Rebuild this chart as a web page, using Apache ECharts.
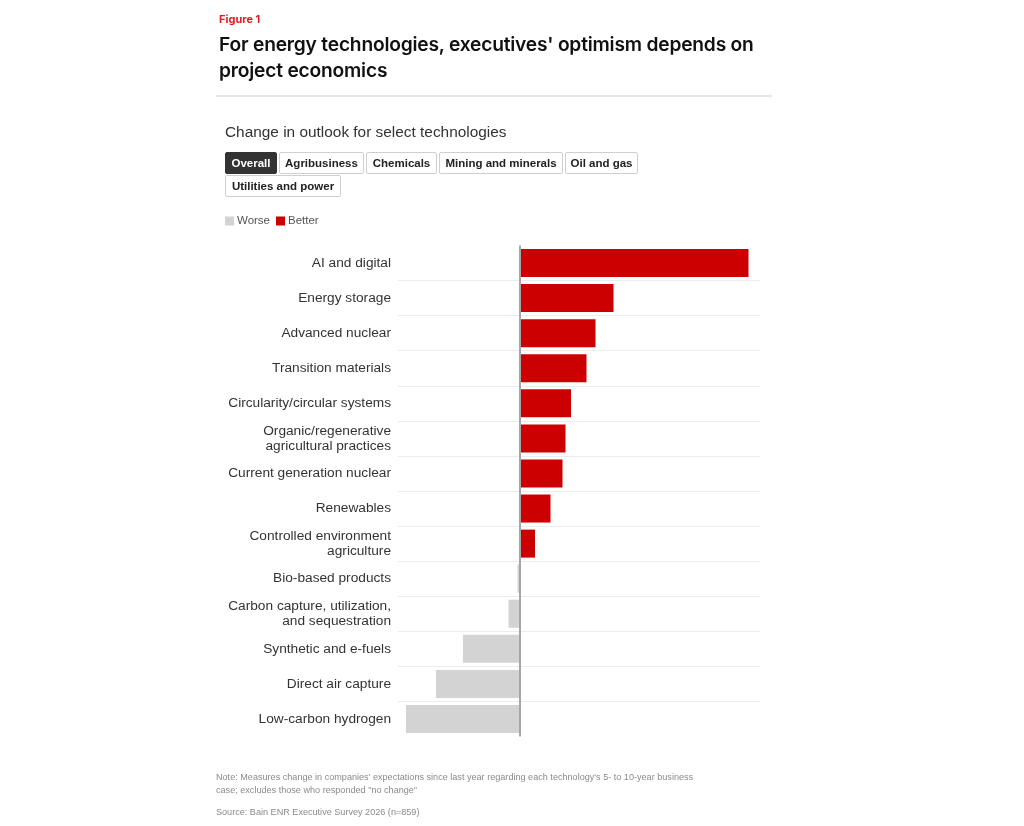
<!DOCTYPE html>
<html>
<head>
<meta charset="utf-8">
<script src="https://cdn.jsdelivr.net/npm/echarts@6/dist/echarts.min.js"></script>
<style>
  html, body { margin: 0; padding: 0; background: #ffffff; }
  body { width: 1024px; height: 826px; position: relative; overflow: hidden; font-family: "Liberation Sans", Arial, sans-serif; }
  #panel { position: absolute; left: 215px; top: 0; width: 558px; height: 826px; background: #ffffff; }
  #chart { position: absolute; left: 0; top: 0; width: 1024px; height: 826px; }
  .abs { position: absolute; white-space: nowrap; }
  #fig { left: 219px; top: 12px; font-size: 11px; font-weight: bold; color: #e11c24; font-family: Inter, "Liberation Sans", sans-serif; }
  #title { left: 219px; top: 32px; font-size: 19.2px; line-height: 25.5px; font-weight: 600; color: #111; font-family: Inter, "Liberation Sans", sans-serif; letter-spacing: -0.2px; }
  #rule { position: absolute; left: 216px; top: 95px; width: 556px; height: 2px; background: #e6e6e6; }
  #sub { left: 225px; top: 123px; font-size: 15.4px; color: #333; }
  .btn { position: absolute; height: 20px; line-height: 20px; border: 1px solid #cfcfcf; border-radius: 2px; font-size: 11.5px; font-weight: bold; color: #222; text-align: center; background: #fff; box-sizing: content-box; }
  .btn.on { background: #333; color: #fff; border-color: #333; }
  #note { left: 216px; top: 771px; font-size: 9.1px; line-height: 13px; color: #8a8a8a; }
  #src { left: 216px; top: 807px; font-size: 9.1px; color: #8a8a8a; }
</style>
</head>
<body>
<div id="panel"></div>
<div id="chart"></div>
<div id="fig" class="abs">Figure 1</div>
<div id="title" class="abs">For energy technologies, executives' optimism depends on<br>project economics</div>
<div id="rule"></div>
<div id="sub" class="abs">Change in outlook for select technologies</div>
<div class="btn on" style="left:225px;top:152px;width:50px;">Overall</div>
<div class="btn" style="left:279px;top:152px;width:83px;">Agribusiness</div>
<div class="btn" style="left:366px;top:152px;width:69px;">Chemicals</div>
<div class="btn" style="left:439px;top:152px;width:122px;">Mining and minerals</div>
<div class="btn" style="left:565px;top:152px;width:71px;">Oil and gas</div>
<div class="btn" style="left:225px;top:175px;width:114px;">Utilities and power</div>
<div id="note" class="abs">Note: Measures change in companies' expectations since last year regarding each technology's 5- to 10-year business<br>case; excludes those who responded "no change"</div>
<div id="src" class="abs">Source: Bain ENR Executive Survey 2026 (n=859)</div>
<script>
const categories = [
  "AI and digital",
  "Energy storage",
  "Advanced nuclear",
  "Transition materials",
  "Circularity/circular systems",
  "Organic/regenerative agricultural practices",
  "Current generation nuclear",
  "Renewables",
  "Controlled environment agriculture",
  "Bio-based products",
  "Carbon capture, utilization, and sequestration",
  "Synthetic and e-fuels",
  "Direct air capture",
  "Low-carbon hydrogen"
];
const netChange = [45.7, 18.7, 15.1, 13.3, 10.2, 9.1, 8.5, 6.1, 3.0, -0.5, -2.3, -11.4, -16.8, -22.8];
const seriesNames = ["Worse", "Better"];

const betterData = netChange.map(v => v > 0 ? v : '-');
const worseData = netChange.map(v => v < 0 ? v : '-');

function wrapLabel(s) {
  const maxChars = 28;
  const words = s.split(' ');
  const lines = [];
  let cur = '';
  words.forEach(w => {
    const test = cur ? cur + ' ' + w : w;
    if (test.length > maxChars && cur) { lines.push(cur); cur = w; }
    else cur = test;
  });
  if (cur) lines.push(cur);
  return lines.join('\n');
}

const chart = echarts.init(document.getElementById('chart'), null, { renderer: 'canvas' });
chart.setOption({
  animation: false,
  backgroundColor: 'transparent',
  textStyle: { fontFamily: '"Liberation Sans", Arial, sans-serif' },
  legend: {
    left: 225, top: 215, padding: 0,
    data: seriesNames,
    itemWidth: 9, itemHeight: 9, itemGap: 6,
    icon: 'rect',
    selectedMode: false,
    textStyle: { fontSize: 11.5, color: '#555', padding: [0, 0, 0, -2] }
  },
  grid: { left: 398, right: 264, top: 245.5, bottom: 89.5, containLabel: false },
  xAxis: {
    type: 'value', min: -24.4, max: 48,
    axisLine: { show: false }, axisTick: { show: false },
    axisLabel: { show: false }, splitLine: { show: false }
  },
  yAxis: {
    type: 'category', data: categories, inverse: true,
    axisLine: { show: false }, axisTick: { show: false },
    axisLabel: {
      fontSize: 13.7, color: '#333', margin: 7,
      lineHeight: 15, align: 'right', formatter: wrapLabel
    },
    splitLine: { show: true, showMinLine: false, showMaxLine: false, lineStyle: { color: '#ececec', width: 1 } }
  },
  series: [
    {
      name: 'Worse', type: 'bar', stack: 'net', data: worseData,
      barWidth: 28, itemStyle: { color: '#d3d3d3' }
    },
    {
      name: 'Better', type: 'bar', stack: 'net', data: betterData,
      barWidth: 28, itemStyle: { color: '#cc0000' },
      markLine: {
        silent: true, symbol: 'none', label: { show: false },
        lineStyle: { color: '#a6a6a6', width: 2, type: 'solid' },
        data: [{ xAxis: 0 }]
      }
    }
  ]
});
</script>
</body>
</html>
